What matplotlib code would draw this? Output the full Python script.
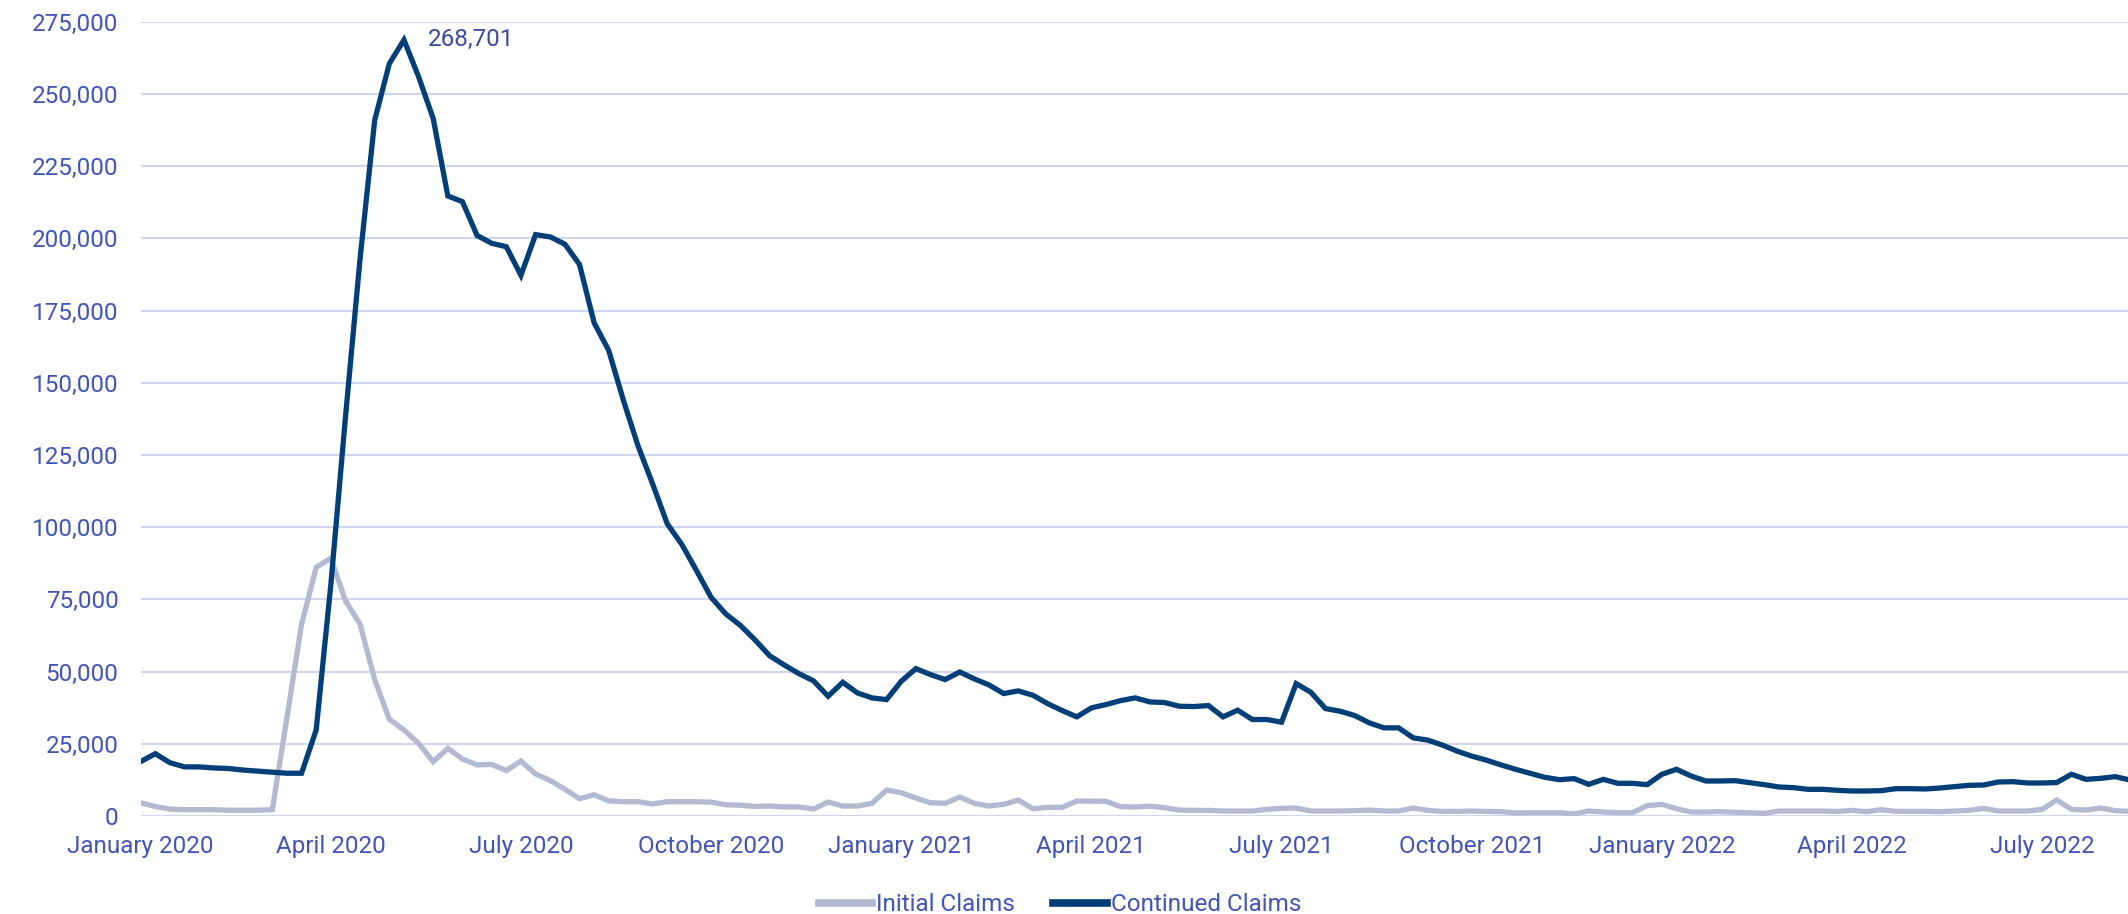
import pandas as pd
import matplotlib
matplotlib.use("Agg")
import matplotlib.pyplot as plt
import matplotlib.dates as mdates
from matplotlib.ticker import FuncFormatter

# weekly claims, January 2020 - August 2022
initial_claims = [
    4570, 3300, 2380, 2200, 2200, 2200, 2000, 2000, 2000, 2200,
    34000, 66400, 86100, 89250, 74600, 66400, 47200, 33500, 29800, 25200,
    18800, 23400, 19750, 17700, 17850, 15750, 19050, 14550, 12300, 9300,
    6000, 7350, 5250, 4950, 4950, 4200, 4950, 4950, 4950, 4800,
    3900, 3750, 3300, 3450, 3150, 3150, 2400, 4840, 3460, 3460,
    4380, 8990, 8060, 6220, 4610, 4380, 6570, 4380, 3460, 4030,
    5530, 2530, 3000, 3000, 5180, 5180, 5070, 3230, 3110, 3400,
    2880, 2070, 1960, 1960, 1730, 1730, 1730, 2300, 2650, 2760,
    1730, 1730, 1730, 1840, 2070, 1730, 1730, 2760, 1960, 1610,
    1610, 1730, 1610, 1500, 1040, 1150, 1150, 1150, 700, 1730,
    1390, 1150, 1150, 3580, 4040, 2540, 1390, 1390, 1500, 1270,
    1150, 920, 1730, 1730, 1730, 1730, 1600, 1960, 1500, 2190,
    1620, 1620, 1620, 1500, 1730, 1960, 2660, 1730, 1730, 1730,
    2310, 5540, 2310, 2080, 2770, 1850, 1620,
]

continued_claims = [
    18840, 21580, 18470, 17010, 17010, 16640, 16460, 15910, 15550, 15180,
    14810, 14810, 29800, 80000, 138000, 193000, 240900, 260500, 268701, 256000,
    241500, 214700, 212700, 201000, 198300, 197100, 187200, 201300, 200500, 198000,
    191000, 170800, 161200, 144000, 128200, 115000, 101200, 94000, 85000, 75700,
    70000, 66000, 61000, 55500, 52300, 49300, 46800, 41470, 46300, 42630,
    40900, 40320, 46660, 51040, 48960, 47240, 49880, 47470, 45390, 42400,
    43320, 41820, 38940, 36520, 34330, 37440, 38590, 39970, 40900, 39500,
    39300, 38020, 37900, 38250, 34330, 36640, 33410, 33410, 32490, 45850,
    42860, 37210, 36290, 34790, 32260, 30530, 30530, 27070, 26270, 24540,
    22470, 20740, 19350, 17700, 16170, 14780, 13400, 12590, 12940, 10970,
    12700, 11320, 11320, 10860, 14440, 16170, 13860, 12130, 12130, 12240,
    11550, 10860, 10050, 9820, 9240, 9240, 8900, 8660, 8660, 8780,
    9470, 9470, 9360, 9700, 10160, 10630, 10740, 11780, 11900, 11430,
    11430, 11600, 14440, 12700, 13050, 13630, 12470,
]

weeks = pd.date_range("2020-01-04", periods=len(continued_claims), freq="7D")
peak_label = "268,701"

text_blue = "#4254b8"
grid_col = "#d0d6ef"

plt.rcParams['font.family'] = ['Roboto', 'DejaVu Sans']

fig = plt.figure(figsize=(21.28, 9.14), dpi=100)
ax = fig.add_axes([0.0661, 0.1072, 0.9348, 0.869])

ax.plot(weeks, initial_claims, color="#b2b9d1", lw=3.8, label="Initial Claims",
        solid_joinstyle="miter")
ax.plot(weeks, continued_claims, color="#023f78", lw=3.8, label="Continued Claims",
        solid_joinstyle="miter")

# peak label
peak_i = continued_claims.index(max(continued_claims))
ax.annotate(peak_label, (weeks[peak_i], continued_claims[peak_i]),
            xytext=(17, 0), textcoords="offset points", va="center",
            ha="left", fontsize=17.5, color="#3b4a9c")

ax.set_ylim(0, 275000)
ax.set_yticks(range(0, 275001, 25000))
ax.yaxis.set_major_formatter(FuncFormatter(lambda v, p: f"{int(v):,}"))
ax.set_xlim(weeks[0], weeks[-1])
ax.set_xticks(weeks[::13])
ax.xaxis.set_major_formatter(mdates.DateFormatter("%B %Y"))

ax.grid(axis="y", color=grid_col, lw=1.5)
ax.set_axisbelow(True)
for s in ax.spines.values():
    s.set_visible(False)
ax.tick_params(axis="both", length=0, labelsize=17.5, labelcolor=text_blue)
ax.tick_params(axis="y", pad=16)
ax.tick_params(axis="x", pad=14)

leg = fig.legend(loc="center", bbox_to_anchor=(0.498, 0.010), ncol=2,
                 frameon=False, fontsize=17.5, handlelength=2.2,
                 handletextpad=0.15, columnspacing=1.6)
for t in leg.get_texts():
    t.set_color(text_blue)
for l in leg.get_lines():
    l.set_linewidth(5.5)

fig.savefig("out.png", dpi=100)
